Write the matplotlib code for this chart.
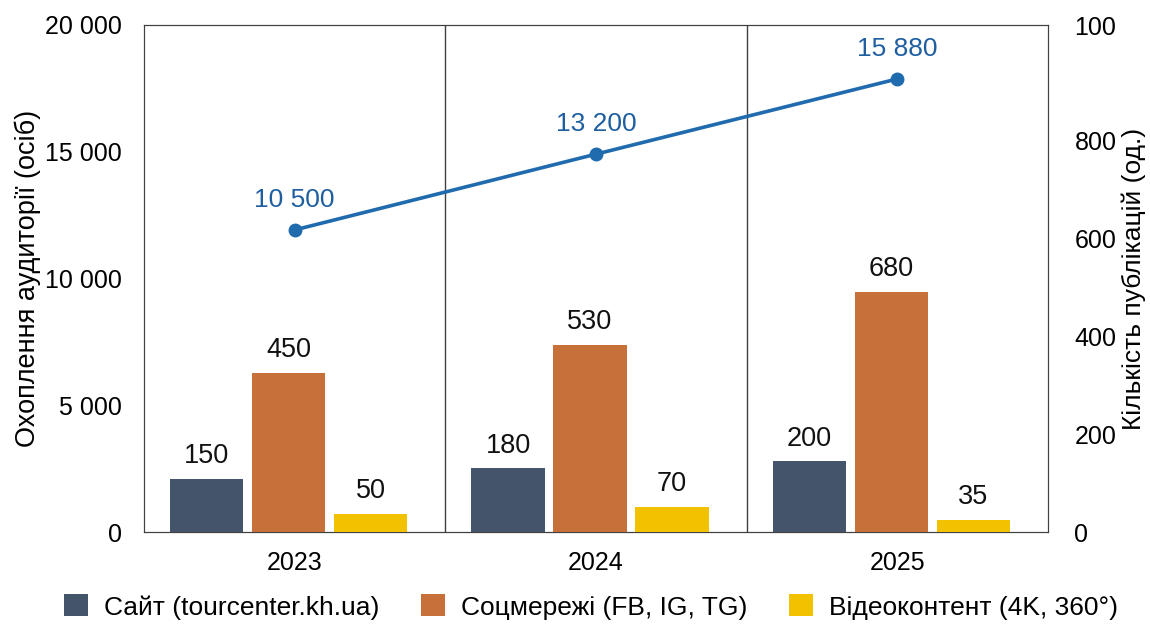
import matplotlib.pyplot as plt
import numpy as np

plt.rcParams['font.family'] = ['Liberation Sans', 'DejaVu Sans']

years = ['2023', '2024', '2025']
reach = [10500, 13200, 15880]
site = [150, 180, 200]
social = [450, 530, 680]
video = [50, 70, 35]
series_names = ['Сайт (tourcenter.kh.ua)', 'Соцмережі (FB, IG, TG)', 'Відеоконтент (4K, 360°)']
colors = ['#44546A', '#C8703A', '#F2C200']
line_color = '#1F6BAE'
label_color = '#1F5FA0'

fig = plt.figure(figsize=(11.5, 6.28), dpi=100)
ax = fig.add_axes([144 / 1150, 1 - 532 / 628, (1048 - 144) / 1150, (532 - 25) / 628])

x = np.arange(len(years))
ax.set_xlim(-0.5, 2.5)
ax.set_ylim(0, 20000)
ax.set_yticks([0, 5000, 10000, 15000, 20000])
ax.set_yticklabels(['0', '5 000', '10 000', '15 000', '20 000'])
ax.set_xticks(x)
ax.set_xticklabels(years)
ax.tick_params(axis='y', length=0, labelsize=18, pad=16)
ax.tick_params(axis='x', length=0, labelsize=18, pad=14)
ax.set_ylabel('Охоплення аудиторії (осіб)', fontsize=19.5, labelpad=3)
for s in ax.spines.values():
    s.set_color('#404040')
for sep in [0.5, 1.5]:
    ax.axvline(sep, color='#404040', lw=1)

# right axis (publications)
ax2 = ax.twinx()
ax2.set_ylim(0, 1035)
ax2.set_yticks([0, 200, 400, 600, 800, 1035])
ax2.set_yticklabels(['0', '200', '400', '600', '800', '100'])
ax2.tick_params(length=0, labelsize=18, pad=19)
ax2.set_ylabel('Кількість публікацій (од.)', fontsize=19, labelpad=4)
for s in ax2.spines.values():
    s.set_color('#404040')

# bars on a hidden axis so the proportions follow the picture
axb = ax.twinx()
axb.set_ylim(0, 1436)
axb.axis('off')
w = 0.243
step = 0.272
for i, (vals, c, name) in enumerate(zip([site, social, video], colors, series_names)):
    pos = x - 0.02 + (i - 1) * step
    bars = axb.bar(pos, vals, w, color=c, label=name)
    for b, v in zip(bars, vals):
        axb.text(b.get_x() + b.get_width() / 2, v + 28, str(v), ha='center', va='bottom',
                 fontsize=19.5, color='#111111')

# reach line
axl = ax.twinx()
axl.set_ylim(-260, 17800)
axl.axis('off')
axl.plot(x, reach, color=line_color, lw=2.6, marker='o', ms=9)
for xi, v in zip(x, reach):
    axl.text(xi, v + 650, f'{v:,}'.replace(',', ' '), ha='center', va='bottom',
             fontsize=19, color=label_color)

handles, labels = axb.get_legend_handles_labels()
fig.legend(handles, labels, loc='center', bbox_to_anchor=(0.514, 1 - 607 / 628), ncol=3,
           frameon=False, fontsize=19, handlelength=0.9, handleheight=0.9,
           handletextpad=0.6, columnspacing=1.6)

fig.savefig('out.png', dpi=100)
